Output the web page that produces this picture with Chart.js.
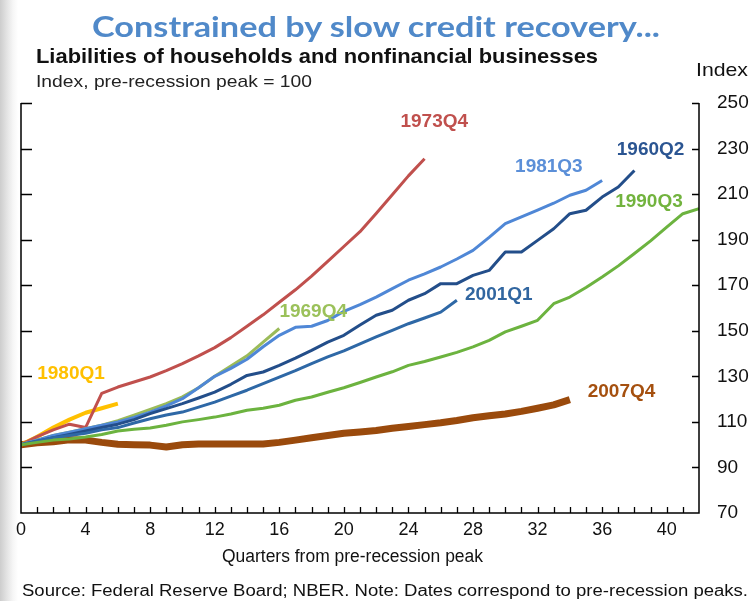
<!DOCTYPE html>
<html><head><meta charset="utf-8">
<script src="https://cdn.jsdelivr.net/npm/chart.js@4"></script>
<style>
html,body{margin:0;padding:0;width:751px;height:601px;overflow:hidden;background:#fff;}
#wrap{position:relative;width:751px;height:601px;background:linear-gradient(to right,#cdcdcd 0px,#e4e4e4 7px,#f6f6f6 13px,#ffffff 18px);}
canvas{position:absolute;left:0;top:0;}
.t{position:absolute;white-space:nowrap;transform-origin:0 0;line-height:1;font-family:"Liberation Sans",Arial,sans-serif;color:#000;}
</style></head><body>
<div id="wrap">
<canvas id="c" width="751" height="601"></canvas>
<div class="t" data-w="568" style="left:92px;top:12px;font-family:Lato,sans-serif;font-weight:bold;font-size:28px;color:#5089C9">Constrained by slow credit recovery...</div>
<div class="t" data-w="562" style="left:36px;top:45px;font-weight:bold;font-size:21px;color:#111">Liabilities of households and nonfinancial businesses</div>
<div class="t" data-w="276" style="left:36px;top:73px;font-size:17px;color:#222">Index, pre-recession peak = 100</div>
<div class="t" data-w="52" style="left:696px;top:60px;font-size:19px;color:#111">Index</div>
<div class="t" data-w="261" style="left:222px;top:547px;font-size:18px;color:#111">Quarters from pre-recession peak</div>
<div class="t" data-w="726" style="left:22px;top:583px;font-size:16px;color:#111">Source: Federal Reserve Board; NBER. Note: Dates correspond to pre-recession peaks.</div>
</div>
<script>
// ---- data ----
const seriesNames = ['1990Q3','2001Q1','1960Q2','1981Q3','1969Q4','1973Q4','1980Q1','2007Q4'];
const s1960Q2 = [100,101.5,103,104.5,106,107.5,109,111,113.6,115.8,118,120.5,123.1,126.5,130.4,131.9,134.8,138,141.4,145,148,152.5,156.8,159,163.4,166.3,170.7,170.7,174.3,176.5,184.6,184.6,189.7,194.8,201.4,202.9,208.7,213.1,220.4];
const s1969Q4 = [100,102,104,105.5,107,108.5,110.5,113,115.5,118,121,125,130,134.5,139,145,151];
const s1973Q4 = [100,103.5,106.5,109,107.5,122.5,125.3,127.5,129.7,132.5,135.6,139,142.6,147,152,157,162.5,168,174,180.5,187,193.5,201.5,209.7,218,225.5];
const s1980Q1 = [100,103.5,107.5,111,114,116,118];
const s1981Q3 = [100,102,104,105.5,107,108.5,110,112,114.3,117,120.2,125,130,133.5,137.5,143,148,151.5,152,154.5,158.5,161.5,164.8,168.5,172.2,175,178,181.5,185.3,191,197,200,203,206,209.5,211.7,216];
const s1990Q3 = [100,101,102,102.5,103.4,104.5,106,106.8,107.3,108.5,110,111,112.1,113.5,115.1,116,117.3,119.5,120.9,123,125,127.3,129.7,132,134.8,136.5,138.5,140.5,142.9,145.8,149.5,152,154.6,161.9,164.8,169,173.6,178.5,183.9,189.5,195.5,201.4,203.6];
const s2001Q1 = [100,101.5,103,104,105,106.5,107.5,109.5,111.4,113,114.3,116.5,118.7,121.3,123.9,126.8,129.7,132.5,135.6,138.5,141.2,144.3,147.3,150.2,153.1,155.6,158.2,163.4];
const s2007Q4 = [100,100.8,101.3,102.2,102,101,100.2,100,99.8,99,100,100.3,100.3,100.3,100.3,100.3,101,102,103,104,105,105.6,106.2,107.2,108,108.8,109.6,110.6,111.8,112.7,113.5,114.6,116,117.5,119.8];
const xTickLabels = [0,4,8,12,16,20,24,28,32,36,40];
const yTickLabels = [70,90,110,130,150,170,190,210,230,250];

const seriesValues = {'1960Q2':s1960Q2,'1969Q4':s1969Q4,'1973Q4':s1973Q4,'1980Q1':s1980Q1,'1981Q3':s1981Q3,'1990Q3':s1990Q3,'2001Q1':s2001Q1,'2007Q4':s2007Q4};

// ---- styles ----
const lineStyle = {
  '1960Q2':{color:'#234E8A',width:3},
  '1969Q4':{color:'#9BBB59',width:3},
  '1973Q4':{color:'#C0504D',width:3},
  '1980Q1':{color:'#FFC000',width:4},
  '1981Q3':{color:'#4F87D6',width:3},
  '1990Q3':{color:'#6CB33F',width:3},
  '2001Q1':{color:'#2E68A6',width:3},
  '2007Q4':{color:'#9A4A0C',width:7}
};
const labelStyle = {
  '1960Q2':{color:'#2B5592',q:39.0,v:229.4},
  '1969Q4':{color:'#9BC15A',q:18.1,v:158.3},
  '1973Q4':{color:'#C0504D',q:25.6,v:241.7},
  '1980Q1':{color:'#FFC000',q:3.1,v:131.1},
  '1981Q3':{color:'#5B8FD8',q:32.7,v:222.0},
  '1990Q3':{color:'#72B33E',q:38.9,v:206.6},
  '2001Q1':{color:'#3166A0',q:29.6,v:165.8},
  '2007Q4':{color:'#A5500F',q:37.2,v:123.2}
};

const datasets = seriesNames.map(n=>({
  label:n,
  data:seriesValues[n].map((v,i)=>({x:i,y:v})),
  borderColor:lineStyle[n].color,
  backgroundColor:lineStyle[n].color,
  borderWidth:lineStyle[n].width,
  pointRadius:0,
  tension:0,
  fill:false,
  borderCapStyle:'butt',
  borderJoinStyle:'round'
}));

const axisPlugin = {
  id:'axisFrame',
  afterDraw(chart){
    const {ctx, chartArea:a, scales:{x,y}} = chart;
    ctx.save();
    ctx.strokeStyle='#000';
    ctx.lineWidth=1.5;
    ctx.beginPath();
    ctx.moveTo(a.left, y.getPixelForValue(250)); ctx.lineTo(a.left, a.bottom);
    ctx.lineTo(a.right, a.bottom); ctx.lineTo(a.right, y.getPixelForValue(250));
    ctx.stroke();
    ctx.lineWidth=1.3;
    ctx.beginPath();
    for(let q=1;q<42;q++){
      const px=Math.round(x.getPixelForValue(q))+0.5;
      ctx.moveTo(px,a.bottom); ctx.lineTo(px,a.bottom-6);
    }
    yTickLabels.forEach(v=>{
      const py=Math.round(y.getPixelForValue(v))+0.5;
      if(v===70) return;
      ctx.moveTo(a.left,py); ctx.lineTo(a.left+11,py);
      ctx.moveTo(a.right,py); ctx.lineTo(a.right-7,py);
    });
    ctx.stroke();
    ctx.restore();
  }
};

const labelPlugin = {
  id:'seriesLabels',
  afterDatasetsDraw(chart){
    const {ctx, scales:{x,y}} = chart;
    ctx.save();
    ctx.font='bold 19px "Liberation Sans", Arial, sans-serif';
    ctx.textAlign='center';
    ctx.textBaseline='middle';
    seriesNames.forEach(n=>{
      const s=labelStyle[n];
      ctx.fillStyle=s.color;
      ctx.fillText(n, x.getPixelForValue(s.q), y.getPixelForValue(s.v));
    });
    ctx.restore();
  }
};

Chart.defaults.font.family='"Liberation Sans", Arial, sans-serif';
Chart.defaults.color='#111';

new Chart(document.getElementById('c'),{
  type:'line',
  data:{datasets},
  options:{
    responsive:false,
    animation:false,
    devicePixelRatio:1,
    layout:{padding:{top:103,left:21,right:0,bottom:0}},
    plugins:{legend:{display:false},tooltip:{enabled:false},title:{display:false}},
    scales:{
      x:{
        type:'linear',min:0,max:42,
        grid:{display:false,drawTicks:false},
        border:{display:false},
        afterBuildTicks(s){ s.ticks = xTickLabels.map(v=>({value:v})); },
        afterFit(s){ s.height = 88; },
        ticks:{font:{size:18},padding:6,maxRotation:0,autoSkip:false,color:'#111'}
      },
      y:{
        type:'linear',position:'right',min:70,max:250,
        grid:{display:false,drawTicks:false},
        border:{display:false},
        afterBuildTicks(s){ s.ticks = yTickLabels.map(v=>({value:v})); },
        afterFit(s){ s.width = 52; },
        ticks:{font:{size:19},padding:18,color:'#111'}
      }
    }
  },
  plugins:[axisPlugin,labelPlugin]
});

function fitTexts(){
  document.querySelectorAll('.t').forEach(el=>{
    el.style.transform='none';
    const w=parseFloat(el.dataset.w);
    const nat=el.getBoundingClientRect().width;
    if(nat>0) el.style.transform='scaleX('+(w/nat)+')';
  });
}
fitTexts();
if(document.fonts && document.fonts.ready) document.fonts.ready.then(fitTexts);
</script>
</body></html>
